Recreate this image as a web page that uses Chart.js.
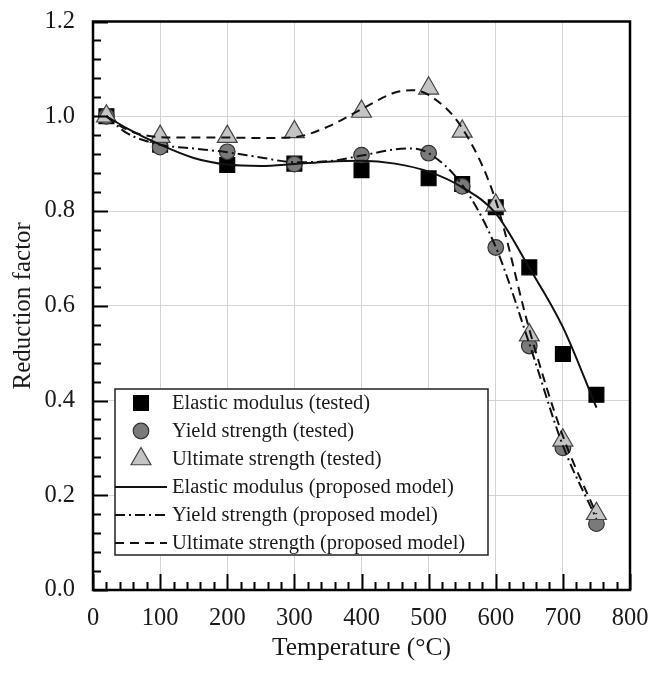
<!DOCTYPE html>
<html>
<head>
<meta charset="utf-8">
<script src="https://cdn.jsdelivr.net/npm/chart.js@4.4.1/dist/chart.umd.min.js"></script>
<style>
html, body { margin: 0; padding: 0; background: #fff; }
</style>
</head>
<body>
<canvas id="reduction_factor_chart" width="651" height="678"></canvas>
<script>
// 試験温度 (℃)
const test_temps = [20, 100, 200, 300, 400, 500, 550, 600, 650, 700, 750];
// 試験値
const elastic_tested = [1.0, 0.94, 0.897, 0.90, 0.886, 0.869, 0.857, 0.808, 0.681, 0.498, 0.412];
const yield_tested = [1.0, 0.935, 0.925, 0.899, 0.918, 0.922, 0.852, 0.723, 0.515, 0.30, 0.14];
const ultimate_tested = [1.0, 0.957, 0.957, 0.967, 1.01, 1.059, 0.968, 0.812, 0.538, 0.316, 0.161];

// 提案モデルの曲線 (温度と値)
const elastic_model_temps = [20, 50, 100, 150, 200, 250, 300, 350, 400, 450, 500, 550, 600, 650, 700, 750];
const elastic_model = [1.0, 0.975, 0.94, 0.912, 0.898, 0.895, 0.899, 0.904, 0.906, 0.90, 0.883, 0.85, 0.795, 0.68, 0.555, 0.385];
const yield_model_temps = [20, 50, 100, 150, 200, 250, 300, 350, 400, 450, 475, 500, 550, 600, 650, 700, 750];
const yield_model = [1.0, 0.965, 0.94, 0.932, 0.924, 0.913, 0.903, 0.905, 0.917, 0.93, 0.932, 0.922, 0.855, 0.724, 0.52, 0.305, 0.15];
const ultimate_model_temps = [20, 50, 100, 150, 200, 250, 300, 350, 400, 450, 475, 500, 550, 600, 650, 700, 750];
const ultimate_model = [1.0, 0.972, 0.956, 0.955, 0.955, 0.954, 0.956, 0.978, 1.015, 1.05, 1.055, 1.045, 0.975, 0.822, 0.55, 0.325, 0.16];

// 凡例ラベル
const legend_labels = [
    'Elastic modulus (tested)',
    'Yield strength (tested)',
    'Ultimate strength (tested)',
    'Elastic modulus (proposed model)',
    'Yield strength (proposed model)',
    'Ultimate strength (proposed model)'
];

const serif_font = '"Liberation Serif", "Times New Roman", serif';

// x と y の配列を点の配列に変換
function to_points(xs, ys){
    return xs.map(function(x, i){ return {x: x, y: ys[i]}; });
}

// 試験値のデータセット
function marker_dataset(label, xs, ys, style, radius, fill, border, order){
    return {
        label: label,
        data: to_points(xs, ys),
        showLine: false,
        pointStyle: style,
        pointRadius: radius,
        pointHoverRadius: radius,
        pointBackgroundColor: fill,
        pointBorderColor: border,
        pointBorderWidth: 1.2,
        order: order
    };
}

// 提案モデルのデータセット
function line_dataset(label, xs, ys, dash, order){
    return {
        label: label,
        data: to_points(xs, ys),
        showLine: true,
        borderColor: '#111',
        borderWidth: 2,
        borderDash: dash,
        cubicInterpolationMode: 'monotone',
        pointRadius: 0,
        pointHoverRadius: 0,
        fill: false,
        order: order
    };
}

const datasets = [
    marker_dataset(legend_labels[0], test_temps, elastic_tested, 'rect', 10.5, '#000', '#000', 6),
    marker_dataset(legend_labels[1], test_temps, yield_tested, 'circle', 7.8, '#7a7a7a', '#333', 5),
    marker_dataset(legend_labels[2], test_temps, ultimate_tested, 'triangle', 11.5, '#c4c4c4', '#444', 4),
    line_dataset(legend_labels[3], elastic_model_temps, elastic_model, [], 1),
    line_dataset(legend_labels[4], yield_model_temps, yield_model, [10, 4, 2, 4], 2),
    line_dataset(legend_labels[5], ultimate_model_temps, ultimate_model, [9, 6], 3)
];

// 内向きの目盛りと枠線を描くプラグイン
const frame_ticks = {
    id: 'frame_ticks',
    afterDatasetsDraw(chart){
        const ctx = chart.ctx;
        const area = chart.chartArea;
        const x_scale = chart.scales.x;
        const y_scale = chart.scales.y;
        ctx.save();
        ctx.strokeStyle = '#000';
        ctx.lineWidth = 2;
        ctx.beginPath();
        // y 軸の目盛り (0.04 ごと)
        for(let i = 0; i <= 30; i++){
            const y = Math.round(y_scale.getPixelForValue(i * 0.04)) + 0.5;
            const len = (i % 5 === 0) ? 15 : 8;
            ctx.moveTo(area.left, y);
            ctx.lineTo(area.left + len, y);
        }
        // x 軸の目盛り (20 ごと)
        for(let i = 0; i <= 40; i++){
            const x = Math.round(x_scale.getPixelForValue(i * 20)) + 0.5;
            const len = (i % 5 === 0) ? 16 : 8;
            ctx.moveTo(x, area.bottom);
            ctx.lineTo(x, area.bottom - len);
        }
        ctx.stroke();
        // 枠線
        ctx.lineWidth = 2.5;
        ctx.strokeRect(area.left, area.top, area.right - area.left, area.bottom - area.top);
        ctx.restore();
    }
};

// 凡例の記号を描く
function draw_marker(ctx, ds, x, y){
    ctx.save();
    ctx.fillStyle = ds.pointBackgroundColor;
    ctx.strokeStyle = ds.pointBorderColor;
    ctx.lineWidth = ds.pointBorderWidth;
    const r = ds.pointRadius;
    ctx.beginPath();
    if(ds.pointStyle === 'rect'){
        const s = r * Math.SQRT1_2;
        ctx.rect(x - s, y - s, s * 2, s * 2);
    }else if(ds.pointStyle === 'circle'){
        ctx.arc(x, y, r, 0, Math.PI * 2);
    }else{
        ctx.moveTo(x, y - r);
        ctx.lineTo(x + r * Math.sin(Math.PI * 2 / 3), y + r / 2);
        ctx.lineTo(x - r * Math.sin(Math.PI * 2 / 3), y + r / 2);
        ctx.closePath();
    }
    ctx.fill();
    ctx.stroke();
    ctx.restore();
}

// グラフ内の凡例を描くプラグイン
const inner_legend = {
    id: 'inner_legend',
    afterDraw(chart){
        const ctx = chart.ctx;
        const area = chart.chartArea;
        const left = area.left + 22;
        const top = 389;
        const width = 373;
        const height = 166;
        const row = 28;
        ctx.save();
        ctx.fillStyle = '#fff';
        ctx.fillRect(left, top, width, height);
        ctx.strokeStyle = '#222';
        ctx.lineWidth = 1.5;
        ctx.strokeRect(left, top, width, height);
        ctx.font = '20.5px ' + serif_font;
        ctx.textBaseline = 'middle';
        chart.data.datasets.forEach(function(ds, i){
            const y = top + 14 + i * row;
            if(ds.showLine){
                ctx.save();
                ctx.strokeStyle = ds.borderColor;
                ctx.lineWidth = ds.borderWidth;
                ctx.setLineDash(ds.borderDash);
                ctx.beginPath();
                ctx.moveTo(left, y);
                ctx.lineTo(left + 52, y);
                ctx.stroke();
                ctx.restore();
            }else{
                draw_marker(ctx, ds, left + 26, y);
            }
            ctx.fillStyle = '#1a1a1a';
            ctx.fillText(ds.label, left + 57, y + 1);
        });
        ctx.restore();
    }
};

const canvas = document.getElementById('reduction_factor_chart');
const chart = new Chart(canvas.getContext('2d'), {
    type: 'scatter',
    data: { datasets: datasets },
    options: {
        responsive: false,
        animation: false,
        layout: { padding: { top: 21.5, right: 21, left: 0, bottom: 0 } },
        plugins: {
            legend: { display: false },
            tooltip: { enabled: false }
        },
        scales: {
            x: {
                type: 'linear',
                min: 0,
                max: 800,
                ticks: {
                    stepSize: 100,
                    color: '#1a1a1a',
                    padding: 14,
                    font: { family: serif_font, size: 24.5 }
                },
                grid: { color: '#d4d4d4', lineWidth: 1, drawTicks: false },
                border: { display: false },
                title: {
                    display: true,
                    text: 'Temperature (°C)',
                    color: '#1a1a1a',
                    font: { family: serif_font, size: 25.5 },
                    padding: { top: 0, bottom: 14 }
                },
                afterFit: function(scale){
                    scale.height = 88;
                    // 端のラベルによる余白を無効化
                    scale.paddingLeft = 0;
                    scale.paddingRight = 0;
                }
            },
            y: {
                type: 'linear',
                min: 0,
                max: 1.2,
                ticks: {
                    stepSize: 0.2,
                    color: '#1a1a1a',
                    padding: 18,
                    font: { family: serif_font, size: 24.5 },
                    callback: function(value){ return value.toFixed(1); }
                },
                grid: { color: '#d4d4d4', lineWidth: 1, drawTicks: false },
                border: { display: false },
                title: {
                    display: true,
                    text: 'Reduction factor',
                    color: '#1a1a1a',
                    font: { family: serif_font, size: 25 },
                    padding: { bottom: 0, top: 8 }
                },
                afterFit: function(scale){
                    scale.width = 93;
                    scale.paddingTop = 0;
                    scale.paddingBottom = 0;
                }
            }
        }
    },
    plugins: [frame_ticks, inner_legend]
});
</script>
</body>
</html>
